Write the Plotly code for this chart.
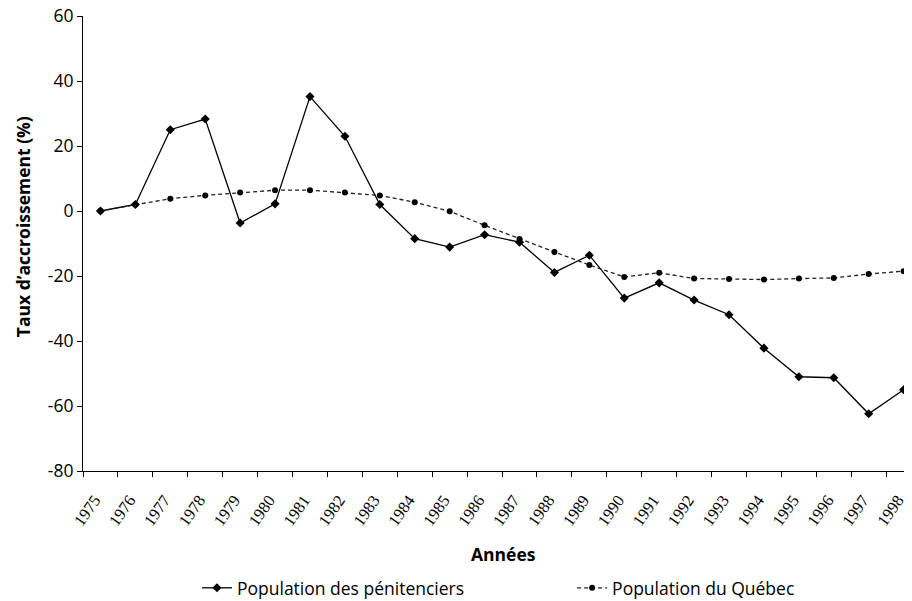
import plotly.graph_objects as go

years = [str(y) for y in range(1975, 1999)]
penitenciers = [0, 2, 25, 28.3, -3.7, 2.2, 35.2, 23, 2, -8.5, -11.1, -7.3, -9.6, -18.9,
                -13.6, -26.8, -22.1, -27.4, -31.9, -42.2, -51, -51.3, -62.4, -55]
quebec = [0, 2, 3.8, 4.8, 5.7, 6.4, 6.4, 5.7, 4.8, 2.7, -0.1, -4.4, -8.6, -12.6,
          -16.6, -20.3, -19, -20.8, -20.9, -21.1, -20.8, -20.6, -19.4, -18.5]
y_ticks = [60, 40, 20, 0, -20, -40, -60, -80]
y_tick_labels = ["60", "40", "20", "0", "-20", "-40", "-60", "-80"]

SANS = "Open Sans, Lato, sans-serif"
SERIF = "Liberation Serif, Times New Roman, serif"

fig = go.Figure()
fig.add_trace(go.Scatter(
    x=years, y=penitenciers, name="Population des pénitenciers",
    mode="lines+markers", line=dict(color="black", width=1.3),
    marker=dict(symbol="diamond", size=7, color="black"), legend="legend",
))
fig.add_trace(go.Scatter(
    x=years, y=quebec, name="Population du Québec",
    mode="lines+markers", line=dict(color="#222222", width=1.3, dash="4px,3px"),
    marker=dict(symbol="circle", size=6, color="black"), legend="legend2",
))

legend_font = dict(family=SANS, size=17.5, color="black")

# The page body has an 8px margin, so the figure is sized/offset to compensate.
fig.update_layout(
    width=904, height=610,
    margin=dict(l=75, r=0, t=8, b=147),
    plot_bgcolor="white", paper_bgcolor="white",
    showlegend=True,
    legend=dict(orientation="h", x=0.1375, xanchor="left", y=-0.257, yanchor="middle",
                font=legend_font),
    legend2=dict(orientation="h", x=0.590, xanchor="left", y=-0.257, yanchor="middle",
                 font=legend_font),
    xaxis=dict(type="category", range=[-0.5, 23.24], showline=True, linecolor="black",
               linewidth=1, ticks="outside", tickson="boundaries", ticklen=5,
               tickcolor="black", tickangle=-55, showgrid=False, zeroline=False,
               automargin=False, ticklabelstandoff=12, ticklabelshift=-6,
               tickfont=dict(family=SERIF, size=16.5, color="black")),
    yaxis=dict(range=[-80, 60], tickvals=y_ticks, ticktext=y_tick_labels, showline=True,
               linecolor="black", linewidth=1, ticks="outside", ticklen=5,
               tickcolor="black", showgrid=False, zeroline=False, automargin=False,
               ticklabeloverflow="allow",
               tickfont=dict(family=SANS, size=17.5, color="black")),
    annotations=[
        dict(text="<b>Années</b>", xref="paper", yref="paper", x=0.507, y=-0.1824,
             xanchor="center", yanchor="middle", showarrow=False,
             font=dict(family=SANS, size=17.5, color="black")),
        dict(text="<b>Taux d’accroissement (%)</b>", xref="paper", yref="paper",
             x=-0.0724, y=0.538, xanchor="center", yanchor="middle", textangle=-90,
             showarrow=False, font=dict(family=SANS, size=17.5, color="black")),
    ],
)

fig.write_html("out.html")
